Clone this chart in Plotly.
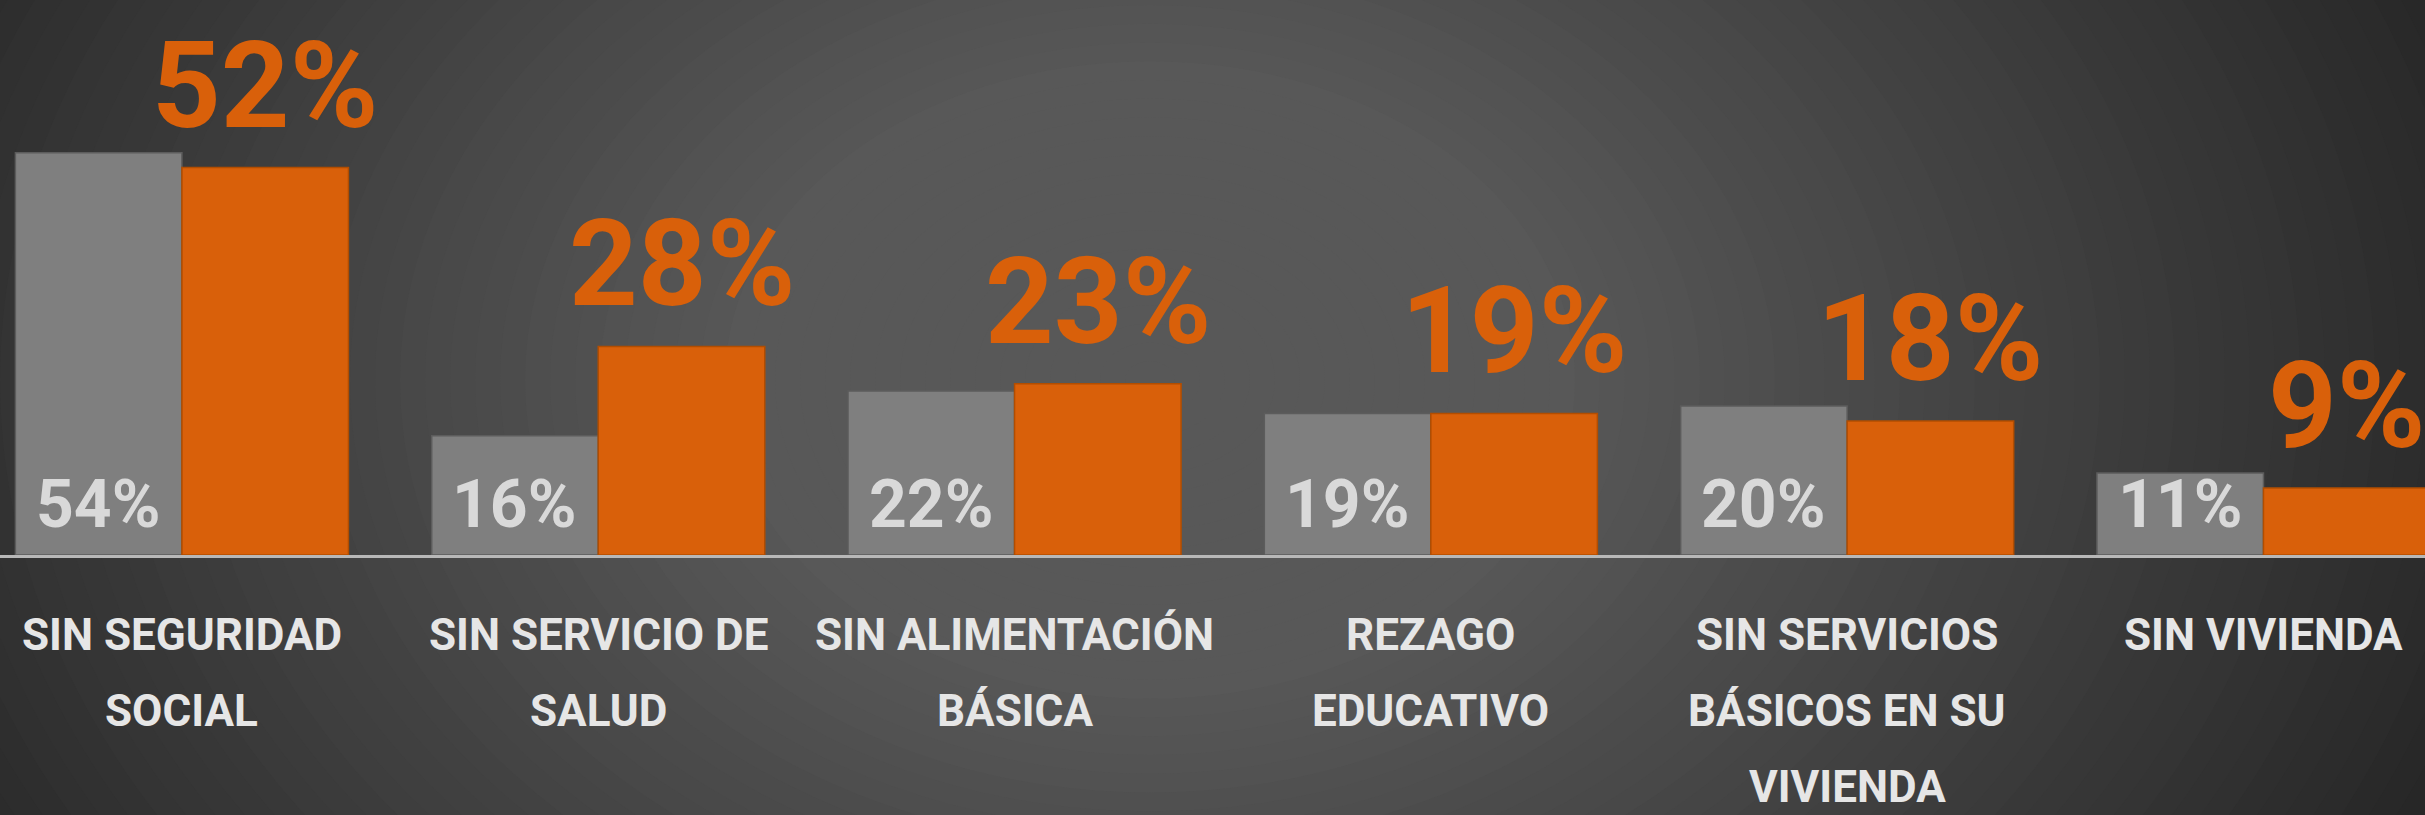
import plotly.graph_objects as go

# ---- data ----
category_lines = [
    ["SIN SEGURIDAD", "SOCIAL"],
    ["SIN SERVICIO DE", "SALUD"],
    ["SIN ALIMENTACIÓN", "BÁSICA"],
    ["REZAGO", "EDUCATIVO"],
    ["SIN SERVICIOS", "BÁSICOS EN SU", "VIVIENDA"],
    ["SIN VIVIENDA"],
]
categories = [" ".join(lines) for lines in category_lines]
gray_values = [54, 16, 22, 19, 20, 11]
orange_values = [52, 28, 23, 19, 18, 9]

GRAY = "#7f7f7f"
ORANGE = "#d9600a"
FONT = "Roboto, DejaVu Sans, sans-serif"

W, H = 2425, 815
MB = 260
PH = H - MB

fig = go.Figure()
fig.add_trace(go.Bar(
    x=categories, y=gray_values, name="Gris",
    marker=dict(color=GRAY, line=dict(color="#5c5c5c", width=1.5)),
    hoverinfo="skip",
))
fig.add_trace(go.Bar(
    x=categories, y=orange_values, name="Naranja",
    marker=dict(color=ORANGE, line=dict(color="#b24d00", width=1.5)),
    hoverinfo="skip",
))

# value labels
for i, (g, o) in enumerate(zip(gray_values, orange_values)):
    fig.add_annotation(
        x=i + 0.2, y=o, xref="x", yref="y", text=f"{o}%",
        showarrow=False, yanchor="bottom", yshift=10,
        font=dict(family=FONT, size=120, color=ORANGE, weight="bold"),
    )
    fig.add_annotation(
        x=i - 0.2, y=0, xref="x", yref="y", text=f"{g}%",
        showarrow=False, yanchor="bottom", yshift=10,
        font=dict(family=FONT, size=66, color="#d9d9d9", weight="bold"),
    )

# category labels (one annotation per line, under the axis)
for i, lines in enumerate(category_lines):
    for j, line in enumerate(lines):
        fig.add_annotation(
            x=i, y=0, xref="x", yref="y", text=line,
            showarrow=False, yanchor="middle", yshift=-80 - 76 * j,
            font=dict(family=FONT, size=44, color="#e6e6e6", weight="bold"),
        )

# radial gradient background built from concentric ellipses
cx, cy = 1150, 380   # pixel centre
rx, ry = 1400, 1050
inner, outer = 88, 39
N = 70
shapes = []
for k in range(N):
    r = 1.25 * (1 - k / N)
    t = min(1.0, max(0.0, (r - 0.3) / 0.7))
    v = int(round(inner + (outer - inner) * t))
    col = f"rgb({v},{v},{v})"
    x0 = (cx - rx * r) / W
    x1 = (cx + rx * r) / W
    y0 = (PH - (cy + ry * r)) / PH
    y1 = (PH - (cy - ry * r)) / PH
    shapes.append(dict(type="circle", xref="paper", yref="paper",
                       x0=x0, x1=x1, y0=y0, y1=y1,
                       fillcolor=col, line=dict(width=0), layer="below"))

fig.update_layout(
    width=W, height=H,
    margin=dict(l=0, r=0, t=0, b=MB, autoexpand=False),
    paper_bgcolor="rgb(39,39,39)",
    plot_bgcolor="rgba(0,0,0,0)",
    barmode="group", bargap=0.2, bargroupgap=0,
    showlegend=False,
    shapes=shapes,
    xaxis=dict(
        range=[-0.437, 5.388], automargin=False,
        showgrid=False, zeroline=False,
        showline=True, linecolor="#b8b8b8", linewidth=2.5,
        ticks="", showticklabels=False,
    ),
    yaxis=dict(
        range=[0, PH / 7.45], automargin=False,
        showgrid=False, zeroline=False, showticklabels=False,
        showline=False, ticks="",
    ),
)

fig.write_html(
    "out.html",
    config={"displayModeBar": False},
    post_script="document.body.style.margin='0';document.body.style.overflow='hidden';",
)
